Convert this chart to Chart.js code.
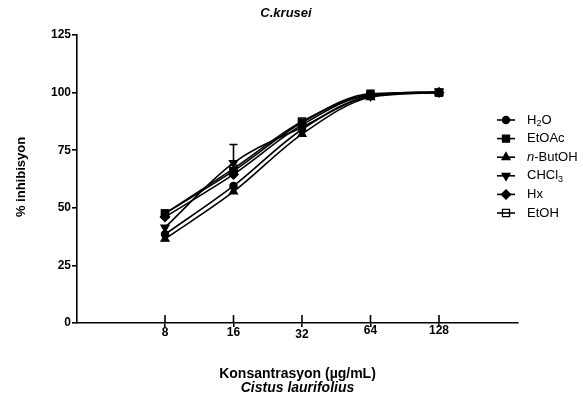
<!DOCTYPE html>
<html><head><meta charset="utf-8">
<script src="https://cdn.jsdelivr.net/npm/chart.js@4/dist/chart.umd.min.js"></script>
<style>html,body{margin:0;padding:0;background:#fff;}#wrap{width:583px;height:401px;position:relative;}</style>
</head><body><div id="wrap"><canvas id="c" width="583" height="401"></canvas></div>
<script>
// ---- data ----
const concentrations = [8, 16, 32, 64, 128];
const xTickLabels = ['8', '16', '32', '64', '128'];
const yTickStep = 25;
const seriesLabels = ['H<sub>2</sub>O', 'EtOAc', '<i>n</i>-ButOH', 'CHCl<sub>3</sub>', 'Hx', 'EtOH'];
const h2o    = [38.5, 59.5, 84.0, 98.5, 100.0];
const etoac  = [47.5, 66.0, 87.0, 99.5, 100.0];
const nbutoh = [36.5, 57.0, 82.0, 98.0, 100.0];
const chcl3  = [41.5, 69.5, 85.0, 98.5, 100.5];
const hx     = [46.0, 64.5, 86.0, 99.0, 100.0];
const etoh   = [47.5, 67.0, 87.5, 99.0, 100.0];
const chcl3ErrUp = [0, 8.0, 0, 0, 0];
const chartTitle = 'C.krusei';
const xTitle = 'Konsantrasyon (µg/mL)';
const xSubTitle = 'Cistus laurifolius';
const yTitle = '% inhibisyon';

const FONT = '"Liberation Sans", Arial, Helvetica, sans-serif';
const seriesValues = [h2o, etoac, nbutoh, chcl3, hx, etoh];
const seriesErrUp = [null, null, null, chcl3ErrUp, null, null];
const markerStyles = [
  {pointStyle: 'circle', radius: 3.6, rotation: 0, fill: '#000'},
  {pointStyle: 'rect', radius: 5, rotation: 0, fill: '#000'},
  {pointStyle: 'triangle', radius: 4.6, rotation: 0, fill: '#000'},
  {pointStyle: 'triangle', radius: 4.6, rotation: 180, fill: '#000'},
  {pointStyle: 'rectRot', radius: 4.6, rotation: 0, fill: '#000'},
  {pointStyle: 'rect', radius: 5, rotation: 0, fill: 'rgba(0,0,0,0)'}
];
// small vertical offsets of the x tick labels as printed in the original figure
const xLabelShift = [0, 0, 2, -2.5, -2];

const datasets = seriesValues.map((vals, i) => ({
  label: seriesLabels[i].replace(/<[^>]+>/g, ''),
  data: vals.map((v, j) => ({x: concentrations[j], y: v})),
  borderColor: '#000',
  borderWidth: 1.6,
  fill: false,
  cubicInterpolationMode: 'monotone',
  pointStyle: markerStyles[i].pointStyle,
  pointRadius: markerStyles[i].radius,
  pointRotation: markerStyles[i].rotation,
  pointBackgroundColor: markerStyles[i].fill,
  pointBorderColor: '#000',
  pointBorderWidth: 1.3
}));

function drawRich(ctx, markup, x, y, size) {
  const re = /<(sub|i)>(.*?)<\/\1>|([^<]+)/g;
  let m, cx = x;
  while ((m = re.exec(markup))) {
    let txt, font = size + 'px ' + FONT, dy = 0;
    if (m[1] === 'sub') { txt = m[2]; font = Math.round(size * 0.72) + 'px ' + FONT; dy = size * 0.3; }
    else if (m[1] === 'i') { txt = m[2]; font = 'italic ' + size + 'px ' + FONT; }
    else txt = m[3];
    ctx.font = font;
    ctx.fillText(txt, cx, y + dy);
    cx += ctx.measureText(txt).width;
  }
}

const decor = {
  id: 'decor',
  afterDatasetsDraw(chart) {
    const ctx = chart.ctx, xs = chart.scales.x, ys = chart.scales.y;
    ctx.save();
    ctx.strokeStyle = '#000'; ctx.fillStyle = '#000'; ctx.lineWidth = 1.6;
    seriesErrUp.forEach((errs, i) => {
      if (!errs) return;
      errs.forEach((e, j) => {
        if (!e) return;
        const px = xs.getPixelForValue(concentrations[j]);
        const y0 = ys.getPixelForValue(seriesValues[i][j]);
        const y1 = ys.getPixelForValue(seriesValues[i][j] + e);
        ctx.beginPath();
        ctx.moveTo(px, y0); ctx.lineTo(px, y1);
        ctx.moveTo(px - 4, y1); ctx.lineTo(px + 4, y1);
        ctx.stroke();
      });
    });
    ctx.restore();
  },
  afterDraw(chart) {
    const ctx = chart.ctx, xs = chart.scales.x, area = chart.chartArea;
    ctx.save();
    ctx.strokeStyle = '#000'; ctx.fillStyle = '#000';
    // upward part of x ticks and x tick labels
    ctx.lineWidth = 1.6;
    ctx.font = 'bold 12px ' + FONT;
    ctx.textAlign = 'center'; ctx.textBaseline = 'middle';
    concentrations.forEach((v, i) => {
      const px = xs.getPixelForValue(v);
      ctx.beginPath(); ctx.moveTo(px, area.bottom - 8); ctx.lineTo(px, area.bottom); ctx.stroke();
      ctx.fillText(xTickLabels[i], px, area.bottom + 10 + xLabelShift[i]);
    });
    // legend
    const lx = 497, lw = 18, ly0 = 120, lstep = 18.6;
    seriesLabels.forEach((lab, i) => {
      const y = ly0 + i * lstep;
      ctx.lineWidth = 1.6;
      ctx.beginPath(); ctx.moveTo(lx, y); ctx.lineTo(lx + lw, y); ctx.stroke();
      const ms = markerStyles[i];
      ctx.fillStyle = ms.fill; ctx.lineWidth = 1.3;
      Chart.helpers.drawPoint(ctx, {pointStyle: ms.pointStyle, rotation: ms.rotation, radius: ms.radius, borderWidth: 1.3}, lx + lw / 2, y);
      ctx.fillStyle = '#000';
      ctx.textAlign = 'left'; ctx.textBaseline = 'middle';
      drawRich(ctx, lab, 527, y, 13);
    });
    // titles
    ctx.textAlign = 'center'; ctx.textBaseline = 'alphabetic';
    ctx.font = 'italic bold 13px ' + FONT;
    ctx.fillText(chartTitle, 286, 17);
    const cx = (area.left + area.right) / 2;
    ctx.font = 'bold 14px ' + FONT;
    ctx.fillText(xTitle, cx, 378);
    ctx.font = 'italic bold 14px ' + FONT;
    ctx.fillText(xSubTitle, cx, 392);
    ctx.save();
    ctx.translate(21, 177); ctx.rotate(-Math.PI / 2);
    ctx.textBaseline = 'middle';
    ctx.font = 'bold 13px ' + FONT;
    ctx.fillText(yTitle, 0, 0);
    ctx.restore();
    ctx.restore();
  }
};

new Chart(document.getElementById('c'), {
  type: 'line',
  data: {datasets},
  plugins: [decor],
  options: {
    responsive: false,
    animation: false,
    events: [],
    layout: {padding: {left: 0, right: 65, top: 35, bottom: 58}},
    plugins: {legend: {display: false}, title: {display: false}, tooltip: {enabled: false}},
    scales: {
      x: {
        type: 'logarithmic',
        min: 3.284, max: 284.7,
        afterBuildTicks: s => { s.ticks = concentrations.map(v => ({value: v})); },
        afterFit: s => { s.height = 20; },
        ticks: {
          display: false, autoSkip: false, maxRotation: 0, minRotation: 0,
          callback: (v, i) => xTickLabels[i]
        },
        grid: {display: true, drawOnChartArea: false, drawTicks: true, tickLength: 4, color: '#000', lineWidth: 1.6},
        border: {display: true, color: '#000', width: 1.6}
      },
      y: {
        min: 0, max: 125,
        afterFit: s => { s.width = 77; },
        ticks: {
          stepSize: yTickStep, padding: 1, color: '#000',
          font: {family: FONT, size: 12, weight: 'bold'}
        },
        grid: {display: true, drawOnChartArea: false, drawTicks: true, tickLength: 5, color: '#000', lineWidth: 1.6},
        border: {display: true, color: '#000', width: 1.6}
      }
    }
  }
});
</script></body></html>
